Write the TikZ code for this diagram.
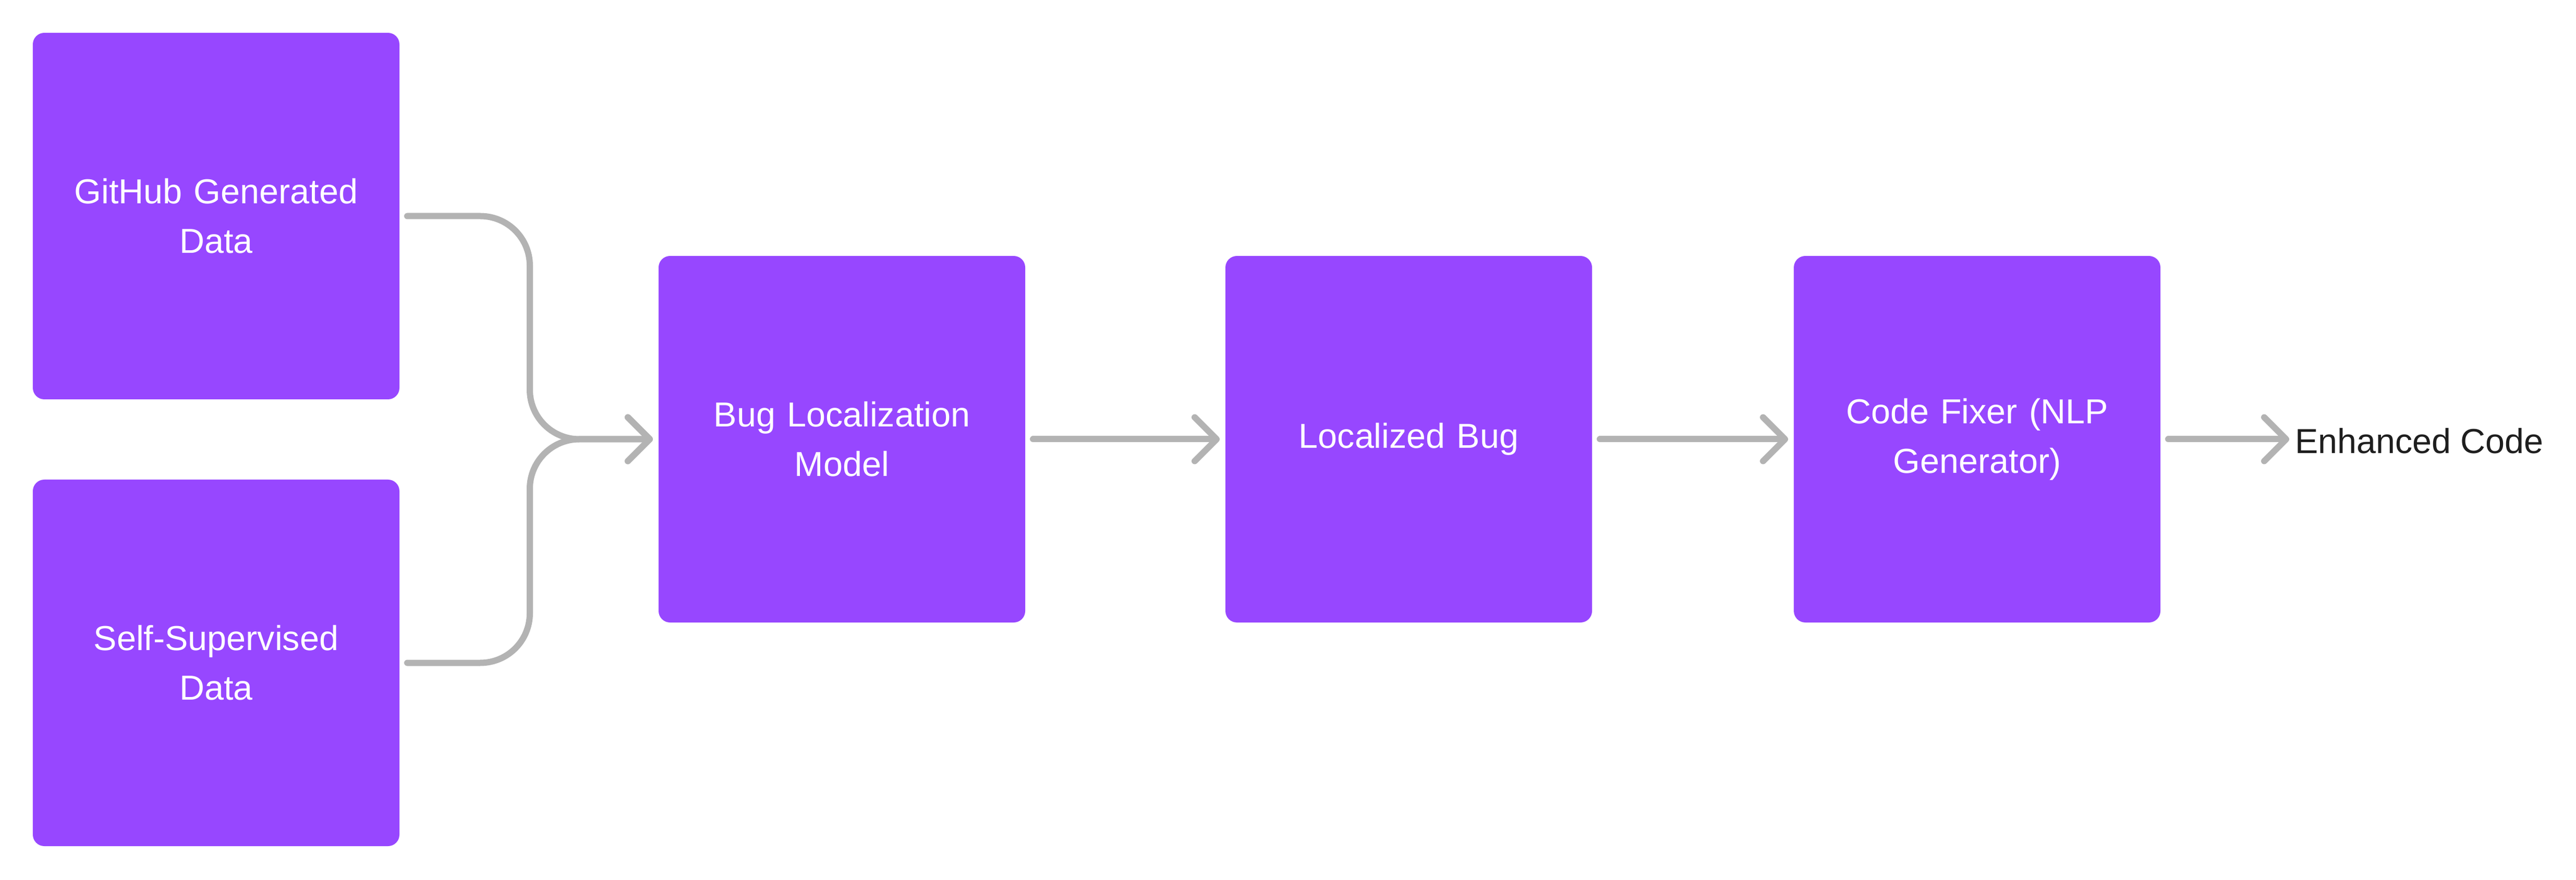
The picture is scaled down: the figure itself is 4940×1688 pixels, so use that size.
\documentclass[tikz,border=0pt]{standalone}
\usepackage{fontspec}
\setmainfont{Liberation Sans}
\usetikzlibrary{arrows.meta}
\definecolor{boxpurple}{HTML}{9747FF}
\definecolor{conngray}{HTML}{B3B3B3}
\definecolor{labelblack}{HTML}{1E1E1E}
\begin{document}
\begin{tikzpicture}[x=0.2pt,y=-0.2pt,
  stagebox/.style={fill=boxpurple, draw=none, rounded corners=4.4pt,
    minimum width=140.6pt, minimum height=140.6pt, inner sep=0pt,
    text=white, align=center, text width=134pt,
    font=\fontsize{13.3pt}{19pt}\selectfont},
  outlabel/.style={inner sep=0pt, anchor=west, text=labelblack,
    font=\fontsize{13.3pt}{19pt}\selectfont},
  conn/.style={draw=conngray, line width=2.4pt, line cap=round, line join=round,
    -{Straight Barb[length=8.4pt,width=16.8pt,line cap=round,line join=round]},
    shorten <=2.8pt, shorten >=2pt}
]
\useasboundingbox (0,0) rectangle (4940,1688);

\node[stagebox] (gh) at (414.5,414.5) {GitHub Generated\\Data};
\node[stagebox] (ss) at (414.5,1271.5) {Self-Supervised\\Data};
\node[stagebox] (bl) at (1614.5,842.5) {Bug Localization\\Model};
\node[stagebox] (lb) at (2701.5,842.5) {\raisebox{-0.5pt}{Localized Bug}};
\node[stagebox] (cf) at (3791.5,842.5) {Code Fixer (NLP\\Generator)};
\node[outlabel] (ec) at (4400,846) {Enhanced Code};

\coordinate (merge) at (1016,842.5);

\draw[conn, rounded corners=19pt] (gh.east) -- (gh.east -| merge) -- (merge) -- (bl.west);
\draw[conn, rounded corners=19pt] (ss.east) -- (ss.east -| merge) -- (merge) -- (bl.west);
\draw[conn] (bl.east) -- (lb.west);
\draw[conn] (lb.east) -- (cf.west);
\draw[conn] (cf.east) -- (ec.west |- cf.east);
\end{tikzpicture}
\end{document}
